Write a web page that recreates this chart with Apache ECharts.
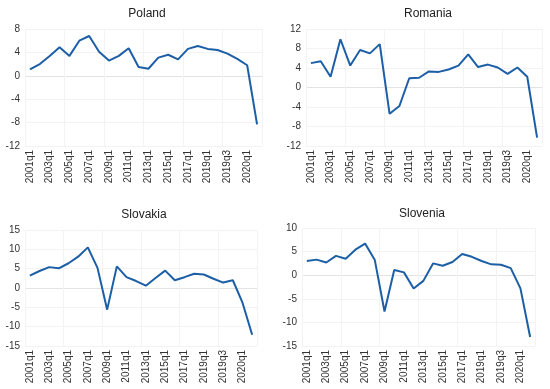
<!DOCTYPE html>
<html>
<head>
<meta charset="utf-8">
<script src="https://cdn.jsdelivr.net/npm/echarts@6/dist/echarts.min.js"></script>
<style>html,body{margin:0;padding:0;background:#fff}#c{width:550px;height:389px}</style>
</head>
<body>
<div id="c"></div>
<script>
const categories = ['2001q1','2002q1','2003q1','2004q1','2005q1','2006q1','2007q1','2008q1','2009q1','2010q1','2011q1','2012q1','2013q1','2014q1','2015q1','2016q1','2017q1','2018q1','2019q1','2019q2','2019q3','2019q4','2020q1','2020q2'];
const poland   = [1.1,2.0,3.4,4.9,3.4,6.0,6.8,4.1,2.6,3.4,4.7,1.5,1.2,3.1,3.6,2.8,4.6,5.1,4.6,4.4,3.8,2.9,1.8,-8.3];
const romania  = [5.0,5.4,2.2,9.9,4.5,7.7,7.0,8.9,-5.4,-3.8,1.9,2.0,3.3,3.2,3.7,4.5,6.8,4.2,4.7,4.1,2.8,4.1,2.2,-10.3];
const slovakia = [3.2,4.4,5.4,5.1,6.4,8.1,10.5,5.2,-5.6,5.6,2.8,1.8,0.6,2.6,4.5,2.0,2.8,3.7,3.5,2.4,1.4,2.0,-3.8,-12.1];
const slovenia = [3.0,3.3,2.7,4.1,3.5,5.4,6.7,3.2,-7.7,1.1,0.6,-2.8,-1.2,2.5,2.0,2.8,4.5,3.9,3.0,2.3,2.2,1.5,-2.8,-13.1];
const titles = ['Poland','Romania','Slovakia','Slovenia'];
const yMin = [-12,-12,-15,-15];
const yMax = [8,12,15,10];
const yInterval = [4,4,5,5];

const seriesData = [poland, romania, slovakia, slovenia];
const grids = [
  {left:25, top:29, width:237, height:117},
  {left:306, top:29, width:236, height:117},
  {left:25, top:230, width:232, height:116},
  {left:302, top:228, width:233, height:118}
];
const titlePos = [
  {x:142, y:3},{x:423, y:3},{x:139, y:204},{x:417, y:203}
];
const textColor = '#333';
const option = {
  animation:false,
  backgroundColor:'#fff',
  title: titles.map((t,i)=>({text:t, left:titlePos[i].x, top:titlePos[i].y, textAlign:'center',
    textStyle:{fontFamily:'Liberation Sans, Arial, sans-serif', fontSize:12, fontWeight:'normal', color:'#222'}})),
  grid: grids,
  xAxis: grids.map((g,i)=>({
    type:'category', gridIndex:i, data:categories, boundaryGap:true,
    axisLine:{show:false}, axisTick:{show:false},
    axisLabel:{interval:1, rotate:90, margin:4, fontSize:10, color:textColor, fontFamily:'Liberation Sans, Arial, sans-serif'},
    splitLine:{show:true, interval:3, lineStyle:{color:'#f3f3f3', width:1}}
  })),
  yAxis: grids.map((g,i)=>{
    const cols=[];
    for(let v=yMin[i]; v<=yMax[i]; v+=yInterval[i]) cols.push(v===0?'#e3e3e3':'#f3f3f3');
    return {
      type:'value', gridIndex:i, min:yMin[i], max:yMax[i], interval:yInterval[i],
      axisLine:{show:false}, axisTick:{show:false},
      axisLabel:{fontSize:10, margin:5, color:textColor, fontFamily:'Liberation Sans, Arial, sans-serif'},
      splitLine:{show:true, lineStyle:{color:cols, width:1}}
    };
  }),
  series: seriesData.map((d,i)=>({
    type:'line', xAxisIndex:i, yAxisIndex:i, data:d, showSymbol:false, symbol:'none',
    lineStyle:{color:'#1c5fa6', width:2}
  }))
};
const chart = echarts.init(document.getElementById('c'), null, {renderer:'canvas'});
chart.setOption(option);
</script>
</body>
</html>
